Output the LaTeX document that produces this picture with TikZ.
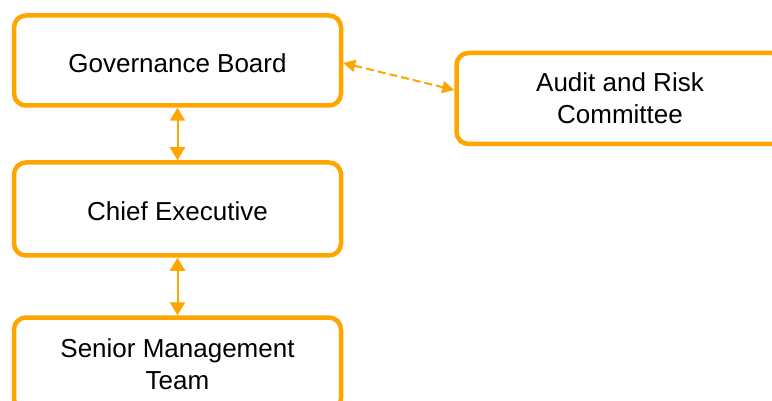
\documentclass[tikz,border=0pt]{standalone}
\usepackage{fontspec}
\setmainfont{Liberation Sans}
\usetikzlibrary{arrows.meta}
\definecolor{boxorange}{HTML}{FFA500}
\tikzset{
  orgbox/.style={draw=boxorange, line width=4.5pt, rounded corners=12pt,
    fill=white, minimum width=327pt, minimum height=91pt, align=center,
    font=\fontsize{26}{32}\selectfont, text=black},
  oneline/.style={text height=24pt, text depth=0pt},
  link/.style={draw=boxorange, line width=2pt,
    {Triangle[length=13pt,width=15pt]}-{Triangle[length=13pt,width=15pt]}},
  dashlink/.style={draw=boxorange, line width=2pt, dash pattern=on 8pt off 4pt,
    {Triangle[length=12pt,width=12pt]}-{Triangle[length=12pt,width=12pt]}}
}
\begin{document}
\begin{tikzpicture}[x=1pt,y=-1pt]
  \clip (0,0) rectangle (772,401);
  \useasboundingbox (0,0) rectangle (772,401);

  \node[orgbox, oneline, minimum height=90pt] (gov)    at (177.5,60.5) {Governance Board};
  \node[orgbox]                               (audit)  at (620,98.5)   {Audit and Risk\\Committee};
  \node[orgbox, oneline, minimum height=93pt] (chief)  at (177.5,209)  {Chief Executive};
  \node[orgbox, minimum height=93pt]          (senior) at (177.5,364)  {Senior Management\\Team};

  \draw[link] (gov.south) -- (chief.north);
  \draw[link] (chief.south) -- (senior.north);
  \draw[dashlink] ([yshift=-2.5pt]gov.east) -- ([yshift=8.5pt]audit.west);
\end{tikzpicture}
\end{document}
